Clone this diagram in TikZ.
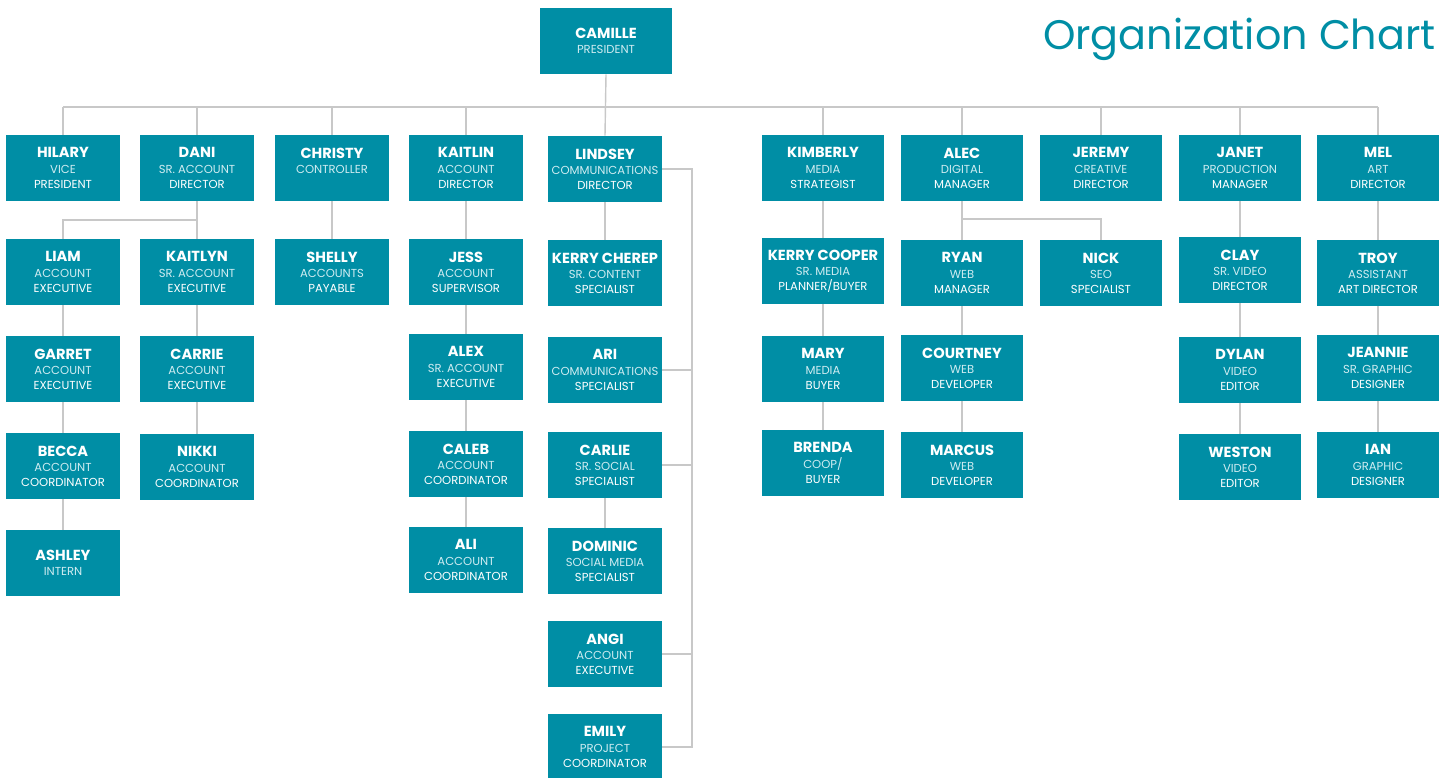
\documentclass[tikz,border=0pt]{standalone}
\usepackage{fontspec}
\setmainfont{Poppins}
\definecolor{boxteal}{HTML}{008EA5}
\definecolor{titletint}{HTML}{CFECF1}
\definecolor{linkgray}{HTML}{C8C8C8}
\newcommand{\who}[2]{{\fontsize{8.3}{8.6}\selectfont\bfseries #1}\\\color{titletint}#2}
\begin{document}
\begin{tikzpicture}[x=0.02cm, y=-0.02cm,
  person/.style={fill=boxteal, text=white, align=center, inner sep=0pt,
    minimum width=2.28cm, minimum height=1.32cm,
    font=\fontsize{6.6}{8.6}\selectfont},
  wide/.style={person, minimum width=2.46cm},
  link/.style={draw=linkgray, line width=0.8pt}]
\useasboundingbox (0,0) rectangle (1445,778);
% Title
\node[font=\fontsize{23.5}{24}\selectfont, text=boxteal, anchor=base east, inner sep=0pt] (title) at (1436,49) {Organization Chart};
% President
\node[person, minimum width=2.66cm] (camille) at (606,41) {\who{CAMILLE}{PRESIDENT}};
% First row
\node[person] (hilary) at (63,168) {\who{HILARY}{VICE\\PRESIDENT}};
\node[person] (dani) at (197,168) {\who{DANI}{SR. ACCOUNT\\DIRECTOR}};
\node[person] (christy) at (332,168) {\who{CHRISTY}{CONTROLLER}\\[-3pt]\strut};
\node[person] (kaitlin) at (466,168) {\who{KAITLIN}{ACCOUNT\\DIRECTOR}};
\node[person] (lindsey) at (605,169) {\who{LINDSEY}{COMMUNICATIONS\\DIRECTOR}};
\node[wide] (kimberly) at (823,168) {\who{KIMBERLY}{MEDIA\\STRATEGIST}};
\node[wide] (alec) at (962,168) {\who{ALEC}{DIGITAL\\MANAGER}};
\node[wide] (jeremy) at (1101,168) {\who{JEREMY}{CREATIVE\\DIRECTOR}};
\node[wide] (janet) at (1240,168) {\who{JANET}{PRODUCTION\\MANAGER}};
\node[wide] (mel) at (1378,168) {\who{MEL}{ART\\DIRECTOR}};
% Second row
\node[person] (liam) at (63,272) {\who{LIAM}{ACCOUNT\\EXECUTIVE}};
\node[person] (kaitlyn) at (197,272) {\who{KAITLYN}{SR. ACCOUNT\\EXECUTIVE}};
\node[person] (shelly) at (332,272) {\who{SHELLY}{ACCOUNTS\\PAYABLE}};
\node[person] (jess) at (466,272) {\who{JESS}{ACCOUNT\\SUPERVISOR}};
\node[person] (kerrych) at (605,273) {\who{KERRY CHEREP}{SR. CONTENT\\SPECIALIST}};
\node[wide] (kerryco) at (823,271) {\who{KERRY COOPER}{SR. MEDIA\\PLANNER/BUYER}};
\node[wide] (ryan) at (962,273) {\who{RYAN}{WEB\\MANAGER}};
\node[wide] (nick) at (1101,273) {\who{NICK}{SEO\\SPECIALIST}};
\node[wide] (clay) at (1240,270) {\who{CLAY}{SR. VIDEO\\DIRECTOR}};
\node[wide] (troy) at (1378,273) {\who{TROY}{ASSISTANT\\ART DIRECTOR}};
% Third row
\node[person] (garret) at (63,369) {\who{GARRET}{ACCOUNT\\EXECUTIVE}};
\node[person] (carrie) at (197,369) {\who{CARRIE}{ACCOUNT\\EXECUTIVE}};
\node[person] (alex) at (466,367) {\who{ALEX}{SR. ACCOUNT\\EXECUTIVE}};
\node[person] (ari) at (605,370) {\who{ARI}{COMMUNICATIONS\\SPECIALIST}};
\node[wide] (mary) at (823,369) {\who{MARY}{MEDIA\\BUYER}};
\node[wide] (courtney) at (962,368) {\who{COURTNEY}{WEB\\DEVELOPER}};
\node[wide] (dylan) at (1240,370) {\who{DYLAN}{VIDEO\\EDITOR}};
\node[wide] (jeannie) at (1378,368) {\who{JEANNIE}{SR. GRAPHIC\\DESIGNER}};
% Fourth row
\node[person] (becca) at (63,466) {\who{BECCA}{ACCOUNT\\COORDINATOR}};
\node[person] (nikki) at (197,467) {\who{NIKKI}{ACCOUNT\\COORDINATOR}};
\node[person] (caleb) at (466,464) {\who{CALEB}{ACCOUNT\\COORDINATOR}};
\node[person] (carlie) at (605,465) {\who{CARLIE}{SR. SOCIAL\\SPECIALIST}};
\node[wide] (brenda) at (823,463) {\who{BRENDA}{COOP/\\BUYER}};
\node[wide] (marcus) at (962,465) {\who{MARCUS}{WEB\\DEVELOPER}};
\node[wide] (weston) at (1240,467) {\who{WESTON}{VIDEO\\EDITOR}};
\node[wide] (ian) at (1378,465) {\who{IAN}{GRAPHIC\\DESIGNER}};
% Lower rows
\node[person] (ashley) at (63,563) {\who{ASHLEY}{INTERN}};
\node[person] (ali) at (466,560) {\who{ALI}{ACCOUNT\\COORDINATOR}};
\node[person] (dominic) at (605,561) {\who{DOMINIC}{SOCIAL MEDIA\\SPECIALIST}};
\node[person] (angi) at (605,654) {\who{ANGI}{ACCOUNT\\EXECUTIVE}};
\node[person] (emily) at (605,747) {\who{EMILY}{PROJECT\\COORDINATOR}};
% Junction points
\coordinate (busL) at (63,107);
\coordinate (busR) at (1378,107);
\coordinate (daniJ) at (197,220);
\coordinate (alecJ) at (962,219);
\coordinate (commR) at (692,747);
% President bus
\draw[link] (camille.south) -- (lindsey.north);
\draw[link] (busL) -- (busR);
\foreach \n in {hilary,dani,christy,kaitlin,kimberly,alec,jeremy,janet,mel}
  \draw[link] (\n.north) -- (\n.north |- busL);
% Straight reporting lines
\foreach \a/\b in {dani/kaitlyn,liam/garret,garret/becca,becca/ashley,kaitlyn/carrie,carrie/nikki,christy/shelly,kaitlin/jess,jess/alex,alex/caleb,caleb/ali,lindsey/kerrych,carlie/dominic,kimberly/kerryco,kerryco/mary,mary/brenda,alec/ryan,ryan/courtney,courtney/marcus,janet/clay,clay/dylan,dylan/weston,mel/troy,troy/jeannie,jeannie/ian}
  \draw[link] (\a.south) -- (\b.north);
% Side branches
\draw[link] (liam.north) |- (daniJ);
\draw[link] (nick.north) |- (alecJ);
\draw[link] (lindsey.east) -| (commR) -- (emily.east);
\foreach \n in {ari,carlie,angi}
  \draw[link] (\n.east) -- (\n.east -| commR);
\end{tikzpicture}
\end{document}
